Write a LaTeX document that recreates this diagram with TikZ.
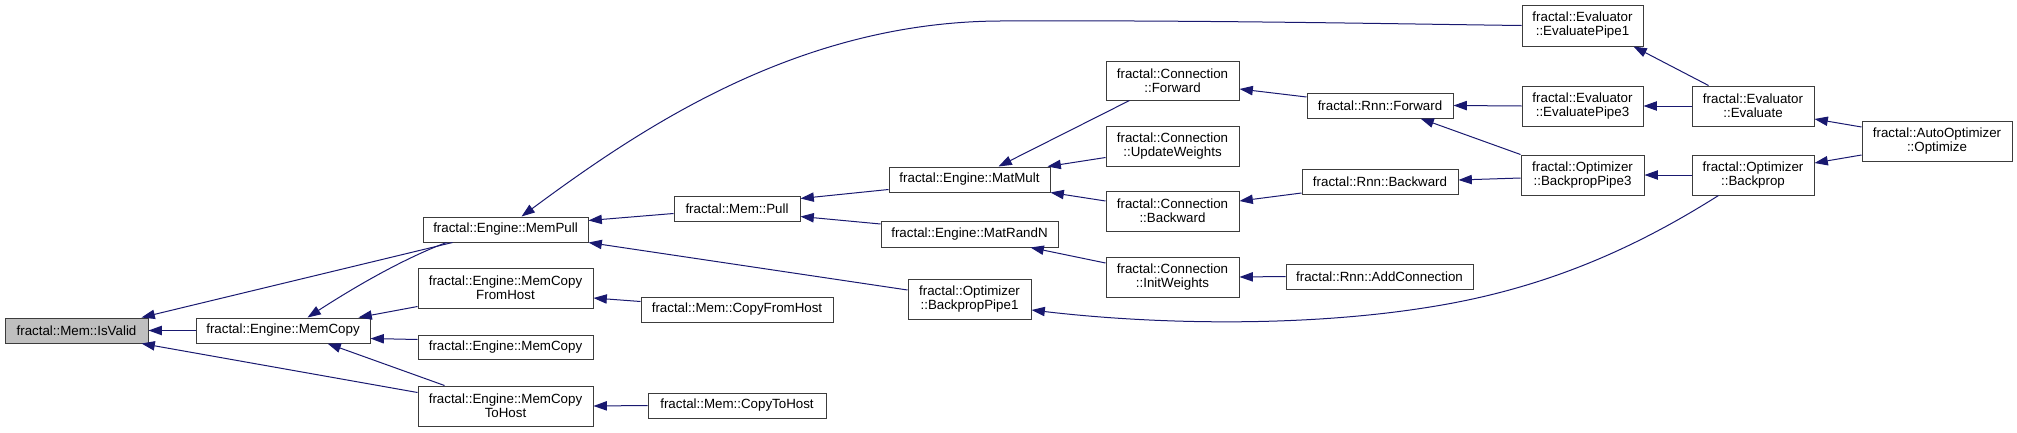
\documentclass[tikz,border=0pt]{standalone}
\usepackage{fontspec}
\setmainfont{Liberation Sans}
\usetikzlibrary{arrows.meta,calc}
\definecolor{navy}{RGB}{25,25,112}
\definecolor{boxline}{RGB}{60,60,60}
\definecolor{boxgray}{RGB}{191,191,191}
\newcommand\mknode[7][]{\node[box,#1,minimum width={(#5-#3)*0.75pt},minimum height={(#6-#4)*0.75pt}] (#2) at ({(#3+#5)/2},{(#4+#6)/2}) {#7};}
\begin{document}
\begin{tikzpicture}[x=0.75pt,y=-0.75pt,
  box/.style={draw=boxline,line width=0.75pt,fill=white,inner sep=0pt,align=center,font=\fontsize{10}{10.5}\selectfont},
  edge/.style={draw=navy,line width=0.75pt,{Triangle[length=10pt,width=7pt]}-,fill=none}]
\useasboundingbox (0,0) rectangle (2017,432);
\mknode[fill=boxgray]{IsValid}{5}{318}{148}{343}{fractal::Mem::IsValid}
\mknode{MemCopy}{196}{318}{370}{343}{fractal::Engine::MemCopy}
\mknode{MemPull}{423}{217}{588}{242}{fractal::Engine::MemPull}
\mknode{MemCopyFromHost}{418}{268}{593}{308}{fractal::Engine::MemCopy\\FromHost}
\mknode{MemCopyB}{418}{335}{593}{359}{fractal::Engine::MemCopy}
\mknode{MemCopyToHost}{418}{386}{593}{426}{fractal::Engine::MemCopy\\ToHost}
\mknode{Pull}{674}{196}{800}{221}{fractal::Mem::Pull}
\mknode{CopyFromHost}{641}{297}{833}{322}{fractal::Mem::CopyFromHost}
\mknode{CopyToHost}{648}{393}{826}{418}{fractal::Mem::CopyToHost}
\mknode{MatMult}{889}{167}{1050}{192}{fractal::Engine::MatMult}
\mknode{MatRandN}{881}{221}{1058}{247}{fractal::Engine::MatRandN}
\mknode{BackpropPipe1}{908}{279}{1031}{319}{fractal::Optimizer\\::BackpropPipe1}
\mknode{ConnForward}{1106}{61}{1239}{100}{fractal::Connection\\::Forward}
\mknode{UpdateWeights}{1106}{126}{1239}{166}{fractal::Connection\\::UpdateWeights}
\mknode{ConnBackward}{1106}{191}{1239}{231}{fractal::Connection\\::Backward}
\mknode{InitWeights}{1106}{257}{1239}{297}{fractal::Connection\\::InitWeights}
\mknode{RnnForward}{1307}{93}{1453}{118}{fractal::Rnn::Forward}
\mknode{RnnBackward}{1302}{169}{1458}{194}{fractal::Rnn::Backward}
\mknode{AddConnection}{1286}{264}{1473}{289}{fractal::Rnn::AddConnection}
\mknode{EvalPipe1}{1522}{5}{1643}{46}{fractal::Evaluator\\::EvaluatePipe1}
\mknode{EvalPipe3}{1522}{86}{1643}{126}{fractal::Evaluator\\::EvaluatePipe3}
\mknode{BackpropPipe3}{1521}{155}{1644}{195}{fractal::Optimizer\\::BackpropPipe3}
\mknode{Evaluate}{1692}{86}{1814}{126}{fractal::Evaluator\\::Evaluate}
\mknode{Backprop}{1692}{155}{1814}{195}{fractal::Optimizer\\::Backprop}
\mknode{Optimize}{1862}{121}{2012}{161}{fractal::AutoOptimizer\\::Optimize}
% edges (arrow at callee)
\draw[edge] ($(IsValid.north west)+(137,0)$) -- ($(MemPull.south west)+(30,0)$);
\draw[edge] (IsValid.east) -- (MemCopy.west);
\draw[edge] ($(IsValid.south west)+(137,0)$) -- ($(MemCopyToHost.north west)+(0,7)$);
\draw[edge] ($(MemCopy.north west)+(112,0)$) .. controls (350,290) and (400,260) .. ($(MemPull.south west)+(24,0)$);
\draw[edge] ($(MemCopy.north east)+(-12,0)$) -- ($(MemCopyFromHost.south west)+(0,-2)$);
\draw[edge] ($(MemCopy.south east)+(0,-5)$) -- ($(MemCopyB.north west)+(0,5)$);
\draw[edge] ($(MemCopy.south west)+(132,0)$) -- ($(MemCopyToHost.north west)+(27,0)$);
\draw[edge] ($(MemCopyFromHost.east)+(0,10)$) -- ($(CopyFromHost.west)+(0,-8)$);
\draw[edge] (MemCopyToHost.east) -- (CopyToHost.west);
\draw[edge] ($(MemPull.north east)+(0,4)$) -- ($(Pull.west)+(0,5)$);
\draw[edge] (MemPull.south east) -- ($(BackpropPipe1.west)+(0,-9)$);
\draw[edge] ($(MemPull.north west)+(99,0)$) .. controls (645,125) and (800,22) .. (1000,21) .. controls (1200,20) and (1400,24) .. (EvalPipe1.west);
\draw[edge] ($(Pull.north east)+(0,3)$) -- ($(MatMult.south west)+(0,-3)$);
\draw[edge] ($(Pull.south east)+(0,-5)$) -- ($(MatRandN.west)+(0,-10)$);
\draw[edge] ($(MatMult.north west)+(110,0)$) -- ($(ConnForward.south west)+(24,0)$);
\draw[edge] ($(MatMult.north east)+(-3,0)$) -- ($(UpdateWeights.south west)+(0,-9)$);
\draw[edge] (MatMult.south east) -- ($(ConnBackward.west)+(0,-10)$);
\draw[edge] ($(MatRandN.south east)+(-28,0)$) -- ($(InitWeights.west)+(0,-14)$);
\draw[edge] ($(ConnForward.east)+(0,8.5)$) -- ($(RnnForward.west)+(0,-8.5)$);
\draw[edge] ($(ConnBackward.east)+(0,-10)$) -- ($(RnnBackward.west)+(0,11.5)$);
\draw[edge] (InitWeights.east) -- (AddConnection.west);
\draw[edge] (RnnForward.east) -- (EvalPipe3.west);
\draw[edge] ($(RnnForward.south east)+(-33,0)$) -- (BackpropPipe3.north west);
\draw[edge] ($(RnnBackward.east)+(0,-1.5)$) -- ($(BackpropPipe3.west)+(0,3)$);
\draw[edge] ($(BackpropPipe1.east)+(0,11)$) .. controls (1150,324) and (1300,328) .. (1430,307) .. controls (1550,288) and (1640,245) .. ($(Backprop.south west)+(27,0)$);
\draw[edge] ($(EvalPipe1.south east)+(-10,0)$) -- ($(Evaluate.north west)+(17,0)$);
\draw[edge] (EvalPipe3.east) -- (Evaluate.west);
\draw[edge] (BackpropPipe3.east) -- (Backprop.west);
\draw[edge] ($(Evaluate.east)+(0,13)$) -- ($(Optimize.west)+(0,-14)$);
\draw[edge] ($(Backprop.east)+(0,-12)$) -- ($(Optimize.west)+(0,14)$);
\end{tikzpicture}
\end{document}
